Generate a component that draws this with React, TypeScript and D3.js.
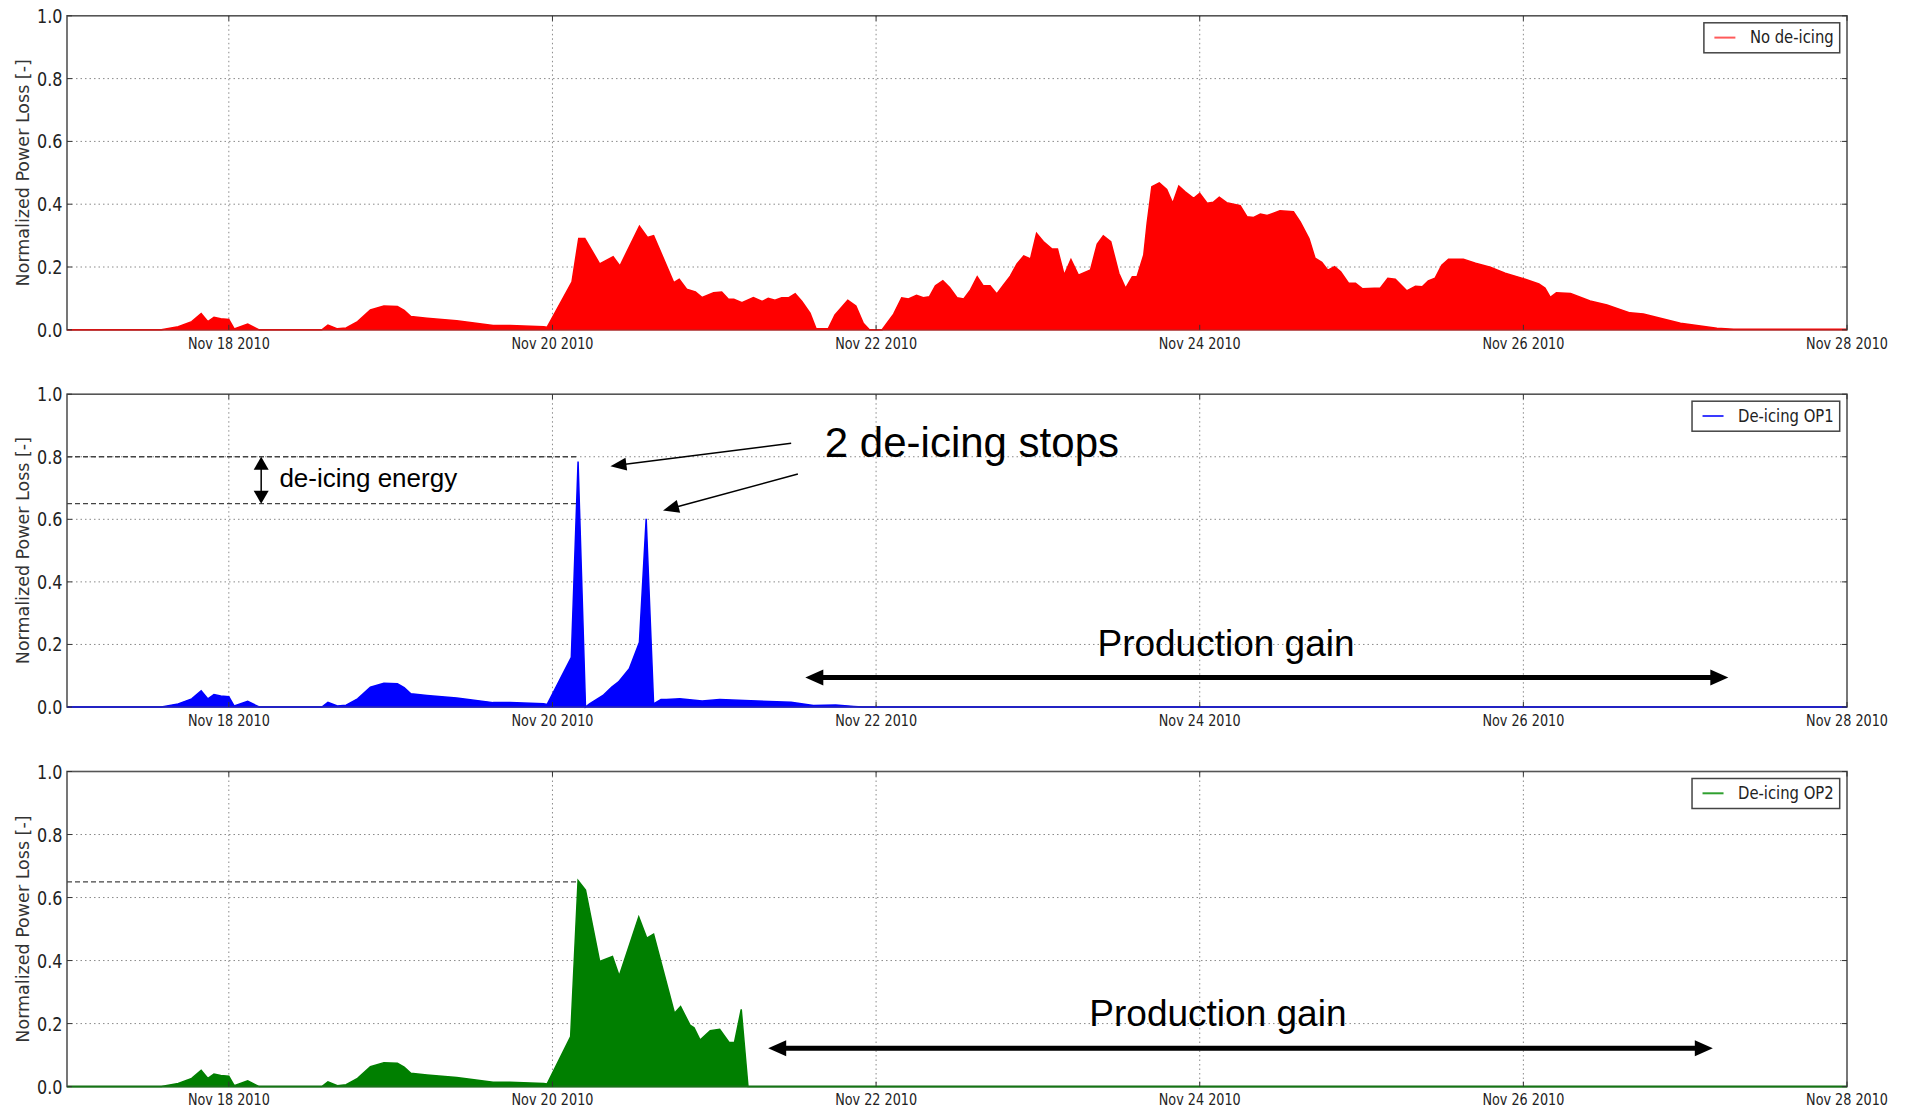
import React from "react";
import * as d3 from "d3";

// hours since Nov 17 2010 00:00, normalized loss
const iceBuildUp: [number, number][] = [
  [0, 0], [14, 0], [16.5, 0.01], [18.5, 0.026], [19.9, 0.052], [20.9, 0.026], [21.8, 0.04],
  [22.8, 0.035], [24, 0.033], [24.8, 0.003], [26.8, 0.018], [28.5, 0], [37.8, 0], [38.7, 0.015],
  [40.1, 0.003], [41.4, 0.006], [43.1, 0.026], [45, 0.063], [47, 0.076], [49, 0.074], [50, 0.062],
  [51, 0.042], [53.4, 0.037], [57.8, 0.029], [59.8, 0.023], [63.2, 0.014], [65.7, 0.014],
  [70.7, 0.01], [71.2, 0.008],
];

const noDeicingTail: [number, number][] = [
  [74.9, 0.153], [75.9, 0.291], [76.8, 0.291], [79, 0.21], [81, 0.233], [82, 0.203], [84.9, 0.33],
  [86.1, 0.294], [87, 0.3], [90, 0.15], [90.8, 0.161], [91.9, 0.129], [93.2, 0.121], [94.2, 0.103],
  [95.9, 0.118], [97.1, 0.12], [98.1, 0.097], [98.9, 0.097], [100.1, 0.086], [101.8, 0.103],
  [103.1, 0.09], [104, 0.1], [105, 0.094], [106, 0.102], [107, 0.102], [108, 0.115], [109, 0.09],
  [110.2, 0.053], [111.1, 0.003], [112.9, 0.003], [113.9, 0.047], [115.8, 0.094], [117, 0.076],
  [118.1, 0.021], [119, 0], [120.9, 0], [122.6, 0.05], [123.8, 0.102], [124.8, 0.098], [126, 0.11],
  [127, 0.102], [127.9, 0.105], [128.8, 0.14], [129.9, 0.156], [130.9, 0.135], [132, 0.102],
  [133, 0.098], [134, 0.127], [135, 0.169], [135.9, 0.14], [136.9, 0.14], [137.9, 0.114],
  [138.9, 0.143], [139.9, 0.171], [140.9, 0.21], [141.9, 0.235], [142.9, 0.226], [143.8, 0.307],
  [144.8, 0.281], [146.1, 0.257], [146.9, 0.257], [147.9, 0.174], [148.9, 0.224], [150, 0.174],
  [151.8, 0.191], [152.8, 0.273], [153.7, 0.299], [154.8, 0.281], [156, 0.18], [157, 0.132],
  [158, 0.169], [158.7, 0.169], [159.7, 0.238], [160.2, 0.339], [160.9, 0.456], [162, 0.468],
  [163.1, 0.447], [164, 0.403], [164.9, 0.458], [165.8, 0.44], [167.1, 0.419], [168, 0.435],
  [169.1, 0.403], [170, 0.406], [170.9, 0.422], [172, 0.405], [174, 0.395], [175, 0.36],
  [176, 0.358], [177, 0.369], [178, 0.364], [179.9, 0.379], [181.9, 0.376], [182.9, 0.344],
  [184.2, 0.291], [185.1, 0.228], [186.1, 0.215], [187, 0.19], [188, 0.201], [188.9, 0.185],
  [190.1, 0.148], [191.1, 0.148], [192.1, 0.131], [194.8, 0.133], [195.9, 0.164], [197, 0.161],
  [198.7, 0.124], [200, 0.139], [201, 0.137], [201.9, 0.156], [202.9, 0.164], [203.9, 0.206],
  [204.9, 0.225], [207.1, 0.225], [208.9, 0.212], [211.1, 0.199], [213.3, 0.18], [216, 0.163],
  [218.3, 0.146], [219.2, 0.133], [220, 0.103], [220.9, 0.118], [223, 0.116], [225.9, 0.092],
  [228.4, 0.079], [231.8, 0.054], [233.8, 0.05], [239.3, 0.021], [244.7, 0.005], [247.2, 0.002],
  [264, 0.002],
];

const op1Tail: [number, number][] = [
  [74.8, 0.159], [75.8, 0.785], [76.9, 0], [77.5, 0.01], [79.5, 0.037], [80.8, 0.064],
  [81.8, 0.08], [83.4, 0.122], [84.9, 0.207], [85.9, 0.602], [87, 0.01], [88.1, 0.024],
  [88.9, 0.024], [90.9, 0.026], [94.2, 0.019], [96.8, 0.024], [101.4, 0.02], [107.4, 0.015],
  [110.7, 0.005], [114, 0.006], [116.7, 0.002], [118, 0], [264, 0],
];

const op2Tail: [number, number][] = [
  [74.7, 0.159], [75.8, 0.654], [76.9, 0.624], [79, 0.397], [80.9, 0.413], [81.9, 0.351],
  [84.8, 0.538], [86, 0.471], [87, 0.484], [90.1, 0.233], [91, 0.254], [92.4, 0.195], [93, 0.187],
  [93.9, 0.148], [95.4, 0.177], [96.8, 0.182], [98.2, 0.14], [99, 0.14], [100, 0.245], [101, 0],
  [264, 0],
];

const legendLabels = ["No de-icing", "De-icing OP1", "De-icing OP2"];
const tickDays = [18, 20, 22, 24, 26, 28];
const yTicks = [0, 0.2, 0.4, 0.6, 0.8, 1.0];
const yLabel = "Normalized Power Loss [-]";

const FILLS = ["#ff0000", "#0000ff", "#007f00"];
const LEGEND_LINES = ["#ff5a5a", "#3a3aff", "#2fa02f"];

const W = 1908;
const H = 1108;
const LEFT = 67;
const RIGHT = 1847;
const PANELS = [
  { top: 15.8, bottom: 329.8 },
  { top: 394.2, bottom: 707 },
  { top: 771.5, bottom: 1086.6 },
];
const MPL_FONT = "'DejaVu Sans', 'Bitstream Vera Sans', sans-serif";
const ARIAL = "'Liberation Sans', Arial, Helvetica, sans-serif";
const SQUEEZE = 0.8;

const START = new Date(2010, 10, 17);
const END = new Date(2010, 10, 28);
const at = (h: number) => new Date(+START + h * 3600e3);
const tickDates = tickDays.map((d) => new Date(2010, 10, d));

const series = [
  iceBuildUp.concat(noDeicingTail),
  iceBuildUp.concat(op1Tail),
  iceBuildUp.concat(op2Tail),
];

const x = d3.scaleTime().domain([START, END]).range([LEFT, RIGHT]);
const fmt = d3.timeFormat("%b %d %Y");

let measureCtx: CanvasRenderingContext2D | null = null;
const measure = (text: string, font: string) => {
  if (!measureCtx) measureCtx = document.createElement("canvas").getContext("2d");
  if (!measureCtx) return text.length * 9;
  measureCtx.font = font;
  return measureCtx.measureText(text).width;
};

function Squeezed({ x, y, size, anchor = "start", children }: any) {
  return (
    <text
      transform={`translate(${x},${y}) scale(${SQUEEZE},1)`}
      textAnchor={anchor}
      fontSize={size}
      fontFamily={MPL_FONT}
      fill="#222"
    >
      {children}
    </text>
  );
}

function head(tx: number, ty: number, fx: number, fy: number, len: number, half: number) {
  const a = Math.atan2(ty - fy, tx - fx);
  const bx = tx - len * Math.cos(a);
  const by = ty - len * Math.sin(a);
  const px = -Math.sin(a) * half;
  const py = Math.cos(a) * half;
  return `${tx},${ty} ${bx + px},${by + py} ${bx - px},${by - py}`;
}

function Arrow({ x1, y1, x2, y2, width, len, half, both = false }: any) {
  const a = Math.atan2(y2 - y1, x2 - x1);
  const sx = both ? x1 + len * 0.8 * Math.cos(a) : x1;
  const sy = both ? y1 + len * 0.8 * Math.sin(a) : y1;
  const ex = x2 - len * 0.8 * Math.cos(a);
  const ey = y2 - len * 0.8 * Math.sin(a);
  return (
    <g>
      <line x1={sx} y1={sy} x2={ex} y2={ey} stroke="#000" strokeWidth={width} />
      <polygon points={head(x2, y2, x1, y1, len, half)} fill="#000" />
      {both && <polygon points={head(x1, y1, x2, y2, len, half)} fill="#000" />}
    </g>
  );
}

function Panel({ index }: { index: number }) {
  const { top, bottom } = PANELS[index];
  const y = d3.scaleLinear().domain([0, 1]).range([bottom, top]);
  const data = series[index];
  const area = d3
    .area<[number, number]>()
    .x((d) => x(at(d[0])))
    .y0(y(0))
    .y1((d) => y(d[1]));
  const line = d3
    .line<[number, number]>()
    .x((d) => x(at(d[0])))
    .y((d) => y(d[1]));

  const label = legendLabels[index];
  const legendFont = 18.5;
  const textW = measure(label, `${legendFont}px ${MPL_FONT}`) * SQUEEZE;
  const boxRight = RIGHT - 7.3;
  const boxW = 46 + textW + 6;
  const boxLeft = boxRight - boxW;
  const boxTop = top + 7;

  const spikeX = x(at(75.8));

  return (
    <g>
      {/* grid */}
      {tickDates.slice(0, -1).map((d, i) => (
        <line key={"gx" + i} x1={x(d)} x2={x(d)} y1={top} y2={bottom}
          stroke="#8a8a8a" strokeWidth={1} strokeDasharray="1.5,3" />
      ))}
      {yTicks.slice(1, -1).map((v, i) => (
        <line key={"gy" + i} x1={LEFT} x2={RIGHT} y1={y(v)} y2={y(v)}
          stroke="#8a8a8a" strokeWidth={1} strokeDasharray="1.5,3" />
      ))}

      {/* data */}
      <path d={area(data) || ""} fill={FILLS[index]} />
      <path d={line(data) || ""} fill="none" stroke={FILLS[index]} strokeWidth={1.5} />

      {/* frame and ticks */}
      <rect x={LEFT} y={top} width={RIGHT - LEFT} height={bottom - top}
        fill="none" stroke="#555" strokeWidth={1.6} />
      <line x1={LEFT} x2={RIGHT} y1={bottom} y2={bottom} stroke={FILLS[index]} strokeWidth={1.6} opacity={0.75} />
      {yTicks.map((v, i) => (
        <g key={"ty" + i}>
          <line x1={LEFT} x2={LEFT + 5} y1={y(v)} y2={y(v)} stroke="#333" strokeWidth={1} />
          <line x1={RIGHT - 5} x2={RIGHT} y1={y(v)} y2={y(v)} stroke="#333" strokeWidth={1} />
          <Squeezed x={62.5} y={y(v) + 7} size={20} anchor="end">{v.toFixed(1)}</Squeezed>
        </g>
      ))}
      {tickDates.map((d, i) => (
        <g key={"tx" + i}>
          <line x1={x(d)} x2={x(d)} y1={bottom} y2={bottom - 5} stroke="#333" strokeWidth={1} />
          <line x1={x(d)} x2={x(d)} y1={top} y2={top + 5} stroke="#333" strokeWidth={1} />
          <Squeezed x={x(d)} y={bottom + 18.7} size={16} anchor="middle">{fmt(d)}</Squeezed>
        </g>
      ))}

      {/* y label */}
      <text transform={`translate(29,${(top + bottom) / 2}) rotate(-90)`} textAnchor="middle"
        fontSize={17.5} fontFamily={MPL_FONT} fill="#333">
        {yLabel}
      </text>

      {/* legend */}
      <rect x={boxLeft} y={boxTop} width={boxW} height={30} fill="#fff" stroke="#444" strokeWidth={1.5} />
      <line x1={boxLeft + 10.5} x2={boxLeft + 31.5} y1={boxTop + 14.8} y2={boxTop + 14.8}
        stroke={LEGEND_LINES[index]} strokeWidth={2} />
      <Squeezed x={boxLeft + 46} y={boxTop + 20.5} size={legendFont}>{label}</Squeezed>

      {/* annotations */}
      {index === 1 && (
        <g>
          <line x1={LEFT} x2={spikeX} y1={y(0.8)} y2={y(0.8)} stroke="#444" strokeWidth={1.3} strokeDasharray="5,3" />
          <line x1={LEFT} x2={spikeX} y1={y(0.65)} y2={y(0.65)} stroke="#444" strokeWidth={1.3} strokeDasharray="5,3" />
          <Arrow x1={x(at(28.8))} y1={y(0.8)} x2={x(at(28.8))} y2={y(0.65)} width={1.5} len={13} half={7.5} both />
          <text x={x(at(31.5))} y={y(0.702)} fontSize={26} fontFamily={ARIAL} fill="#000">de-icing energy</text>
          <text x={x(at(112.4))} y={y(0.798)} fontSize={42} fontFamily={ARIAL} fill="#000">2 de-icing stops</text>
          <Arrow x1={x(at(107.4))} y1={y(0.843)} x2={x(at(80.6))} y2={y(0.77)} width={1.5} len={16} half={6.5} />
          <Arrow x1={x(at(108.4))} y1={y(0.745)} x2={x(at(88.4))} y2={y(0.628)} width={1.5} len={16} half={6.5} />
          <text x={x(at(171.9))} y={y(0.163)} fontSize={37} fontFamily={ARIAL} fill="#000" textAnchor="middle">Production gain</text>
          <Arrow x1={x(at(109.5))} y1={y(0.094)} x2={x(at(246.4))} y2={y(0.094)} width={5} len={18} half={8} both />
        </g>
      )}
      {index === 2 && (
        <g>
          <line x1={LEFT} x2={spikeX} y1={y(0.65)} y2={y(0.65)} stroke="#444" strokeWidth={1.3} strokeDasharray="5,3" />
          <text x={x(at(170.7))} y={y(0.192)} fontSize={37} fontFamily={ARIAL} fill="#000" textAnchor="middle">Production gain</text>
          <Arrow x1={x(at(104))} y1={y(0.122)} x2={x(at(244.1))} y2={y(0.122)} width={5} len={18} half={8} both />
        </g>
      )}
    </g>
  );
}

export default function App() {
  return (
    <svg
      width={W}
      height={H}
      viewBox={`0 0 ${W} ${H}`}
      style={{ position: "absolute", left: 0, top: 0, display: "block", background: "#fff" }}
    >
      <rect width={W} height={H} fill="#fff" />
      {PANELS.map((_, i) => (
        <Panel key={i} index={i} />
      ))}
    </svg>
  );
}
